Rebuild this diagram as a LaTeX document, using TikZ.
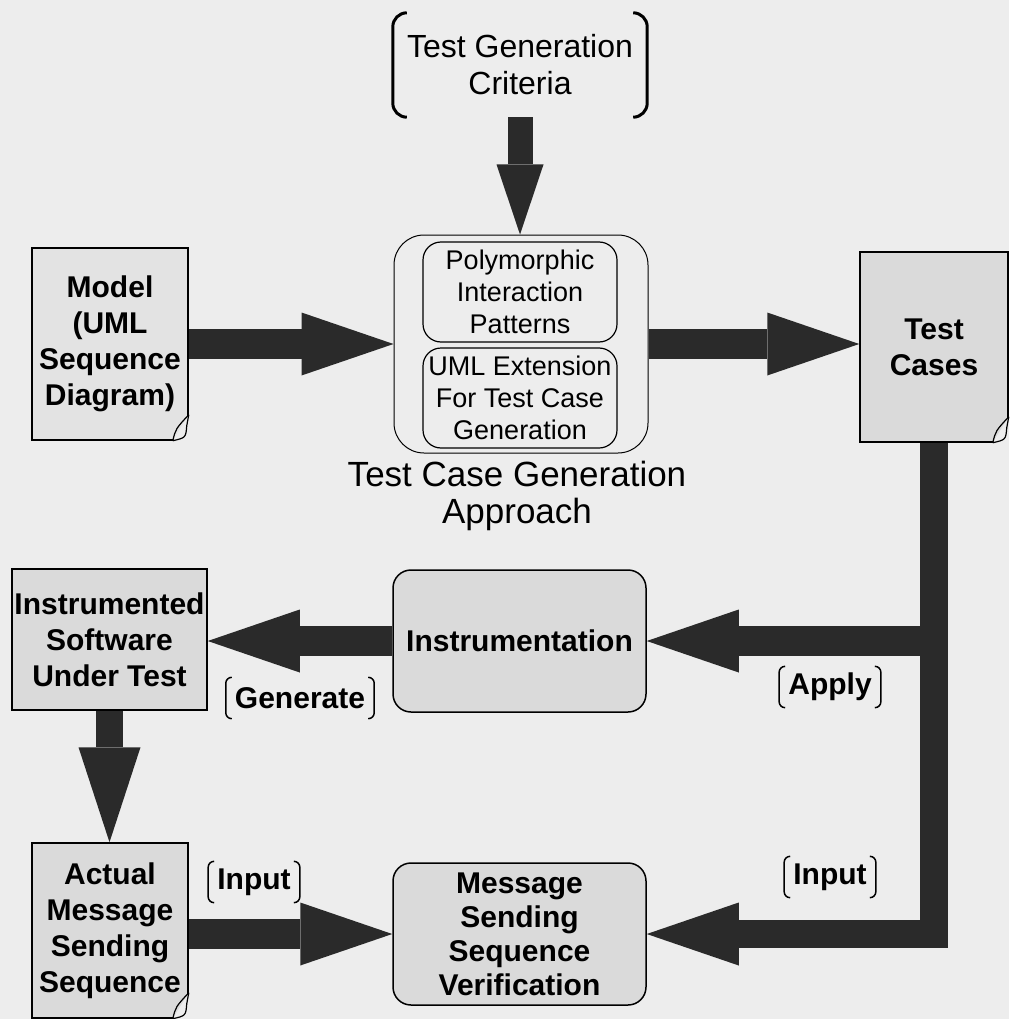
\documentclass[tikz,border=0pt]{standalone}
\usepackage{fontspec}
\setmainfont{Liberation Sans}
\usetikzlibrary{arrows.meta}

\definecolor{bg}{HTML}{EDEDED}
\definecolor{docgray}{HTML}{DADADA}
\definecolor{modelgray}{HTML}{E3E3E3}
\definecolor{arrowgray}{HTML}{2A2A2A}

\tikzset{
  doc/.style={draw, line width=1.5pt, fill=docgray, align=center, inner sep=1pt,
    font=\fontsize{30}{36}\selectfont\bfseries},
  rbox/.style={draw, line width=1.5pt, fill=docgray, rounded corners=18pt, align=center,
    minimum width=253pt, minimum height=142pt, font=\fontsize{30}{34}\selectfont\bfseries},
  inbox/.style={draw, line width=1.2pt, rounded corners=18pt, align=center,
    minimum width=194pt, minimum height=100pt, font=\fontsize{27}{32}\selectfont},
  tag/.style={inner xsep=9pt, minimum height=41pt, font=\fontsize{30}{36}\selectfont\bfseries},
  fat/.style={draw=arrowgray, line width=30pt,
    -{Triangle[length=92pt,width=63pt,line width=0pt]}},
}

% folded corner at the bottom right of a document box
\newcommand{\dogear}[1]{%
  \fill[bg] ([xshift=-16pt]#1.south east) -- (#1.south east) -- ([yshift=26pt]#1.south east) -- cycle;
  \draw[line width=1.2pt] ([xshift=-16pt]#1.south east) .. controls ([xshift=-13pt,yshift=12pt]#1.south east) .. ([yshift=26pt]#1.south east);
  \draw[line width=1.2pt] ([xshift=-16pt]#1.south east) .. controls ([xshift=-3pt,yshift=3pt]#1.south east) .. ([xshift=-2pt,yshift=15pt]#1.south east) -- ([yshift=26pt]#1.south east);}

% thin curved brackets round a label
\newcommand{\tagbrackets}[3]{%
  \draw[line width=#1] ([xshift=#2]#3.north west) to[out=180,in=90] ([yshift=-#2]#3.north west) -- ([yshift=#2]#3.south west) to[out=-90,in=180] ([xshift=#2]#3.south west);
  \draw[line width=#1] ([xshift=-#2]#3.north east) to[out=0,in=90] ([yshift=-#2]#3.north east) -- ([yshift=#2]#3.south east) to[out=-90,in=0] ([xshift=-#2]#3.south east);}

\begin{document}
\begin{tikzpicture}[x=1pt,y=1pt]
\useasboundingbox (0,0) rectangle (1009,-1019);
\fill[bg] (0,0) rectangle (1009,-1019);

% top: criteria and the approach
\node[font=\fontsize{32}{37}\selectfont, align=center, minimum width=254pt, minimum height=104pt] (crit) at (520,-65) {Test Generation\\Criteria};
\tagbrackets{3pt}{14pt}{crit}
\node[draw, line width=1pt, rounded corners=30pt, minimum width=254pt, minimum height=218pt] (appr) at (521,-344) {};
\node[inbox] (poly) at (520,-292) {Polymorphic\\Interaction\\Patterns};
\node[inbox] (ext) at (520,-398) {UML Extension\\For Test Case\\Generation};
\node[font=\fontsize{35}{37}\selectfont, align=center] (apprlabel) at (517,-496) {Test Case Generation\\Approach};

\node[doc, fill=modelgray, minimum width=156pt, minimum height=192pt] (model) at (110,-344) {Model\\(UML\\Sequence\\Diagram)};
\dogear{model}
\node[doc, minimum width=148pt, minimum height=190pt] (cases) at (934,-347) {Test\\Cases};
\dogear{cases}

% middle and bottom rows
\node[rbox] (instr) at (519.5,-641) {Instrumentation};
\node[doc, minimum width=195pt, minimum height=141pt] (instrd) at (109.5,-639.5) {Instrumented\\Software\\Under Test};
\node[doc, minimum width=156pt, minimum height=175pt] (actual) at (110,-930.5) {Actual\\Message\\Sending\\Sequence};
\dogear{actual}
\node[rbox] (verif) at (519.5,-934) {Message\\Sending\\Sequence\\Verification};

\node[tag] (gen) at (300,-698) {Generate};
\tagbrackets{1.5pt}{6pt}{gen}
\node[tag] (apply) at (830,-687) {Apply};
\tagbrackets{1.5pt}{6pt}{apply}
\node[tag] (inleft) at (254,-882) {Input};
\tagbrackets{1.5pt}{6pt}{inleft}
\node[tag] (inright) at (830,-877) {Input};
\tagbrackets{1.5pt}{6pt}{inright}

% block arrows
\draw[fat, line width=25pt, -{Triangle[length=70pt,width=47pt,line width=0pt]}] (crit.south) -- (crit.south |- appr.north);
\draw[fat] (model.east) -- (appr.west);
\draw[fat] (appr.east) -- (appr.east -| cases.west);
\draw[fat, line width=28pt] (cases.south) |- (verif.east);
\draw[fat] (cases.south |- instr.east) -- (instr.east);
\draw[fat] (instr.west) -- (instr.west -| instrd.east);
\draw[fat, line width=27pt, -{Triangle[length=95pt,width=62pt,line width=0pt]}] (instrd.south) -- (instrd.south |- actual.north);
\draw[fat] (actual.east |- verif.west) -- (verif.west);
\end{tikzpicture}
\end{document}
